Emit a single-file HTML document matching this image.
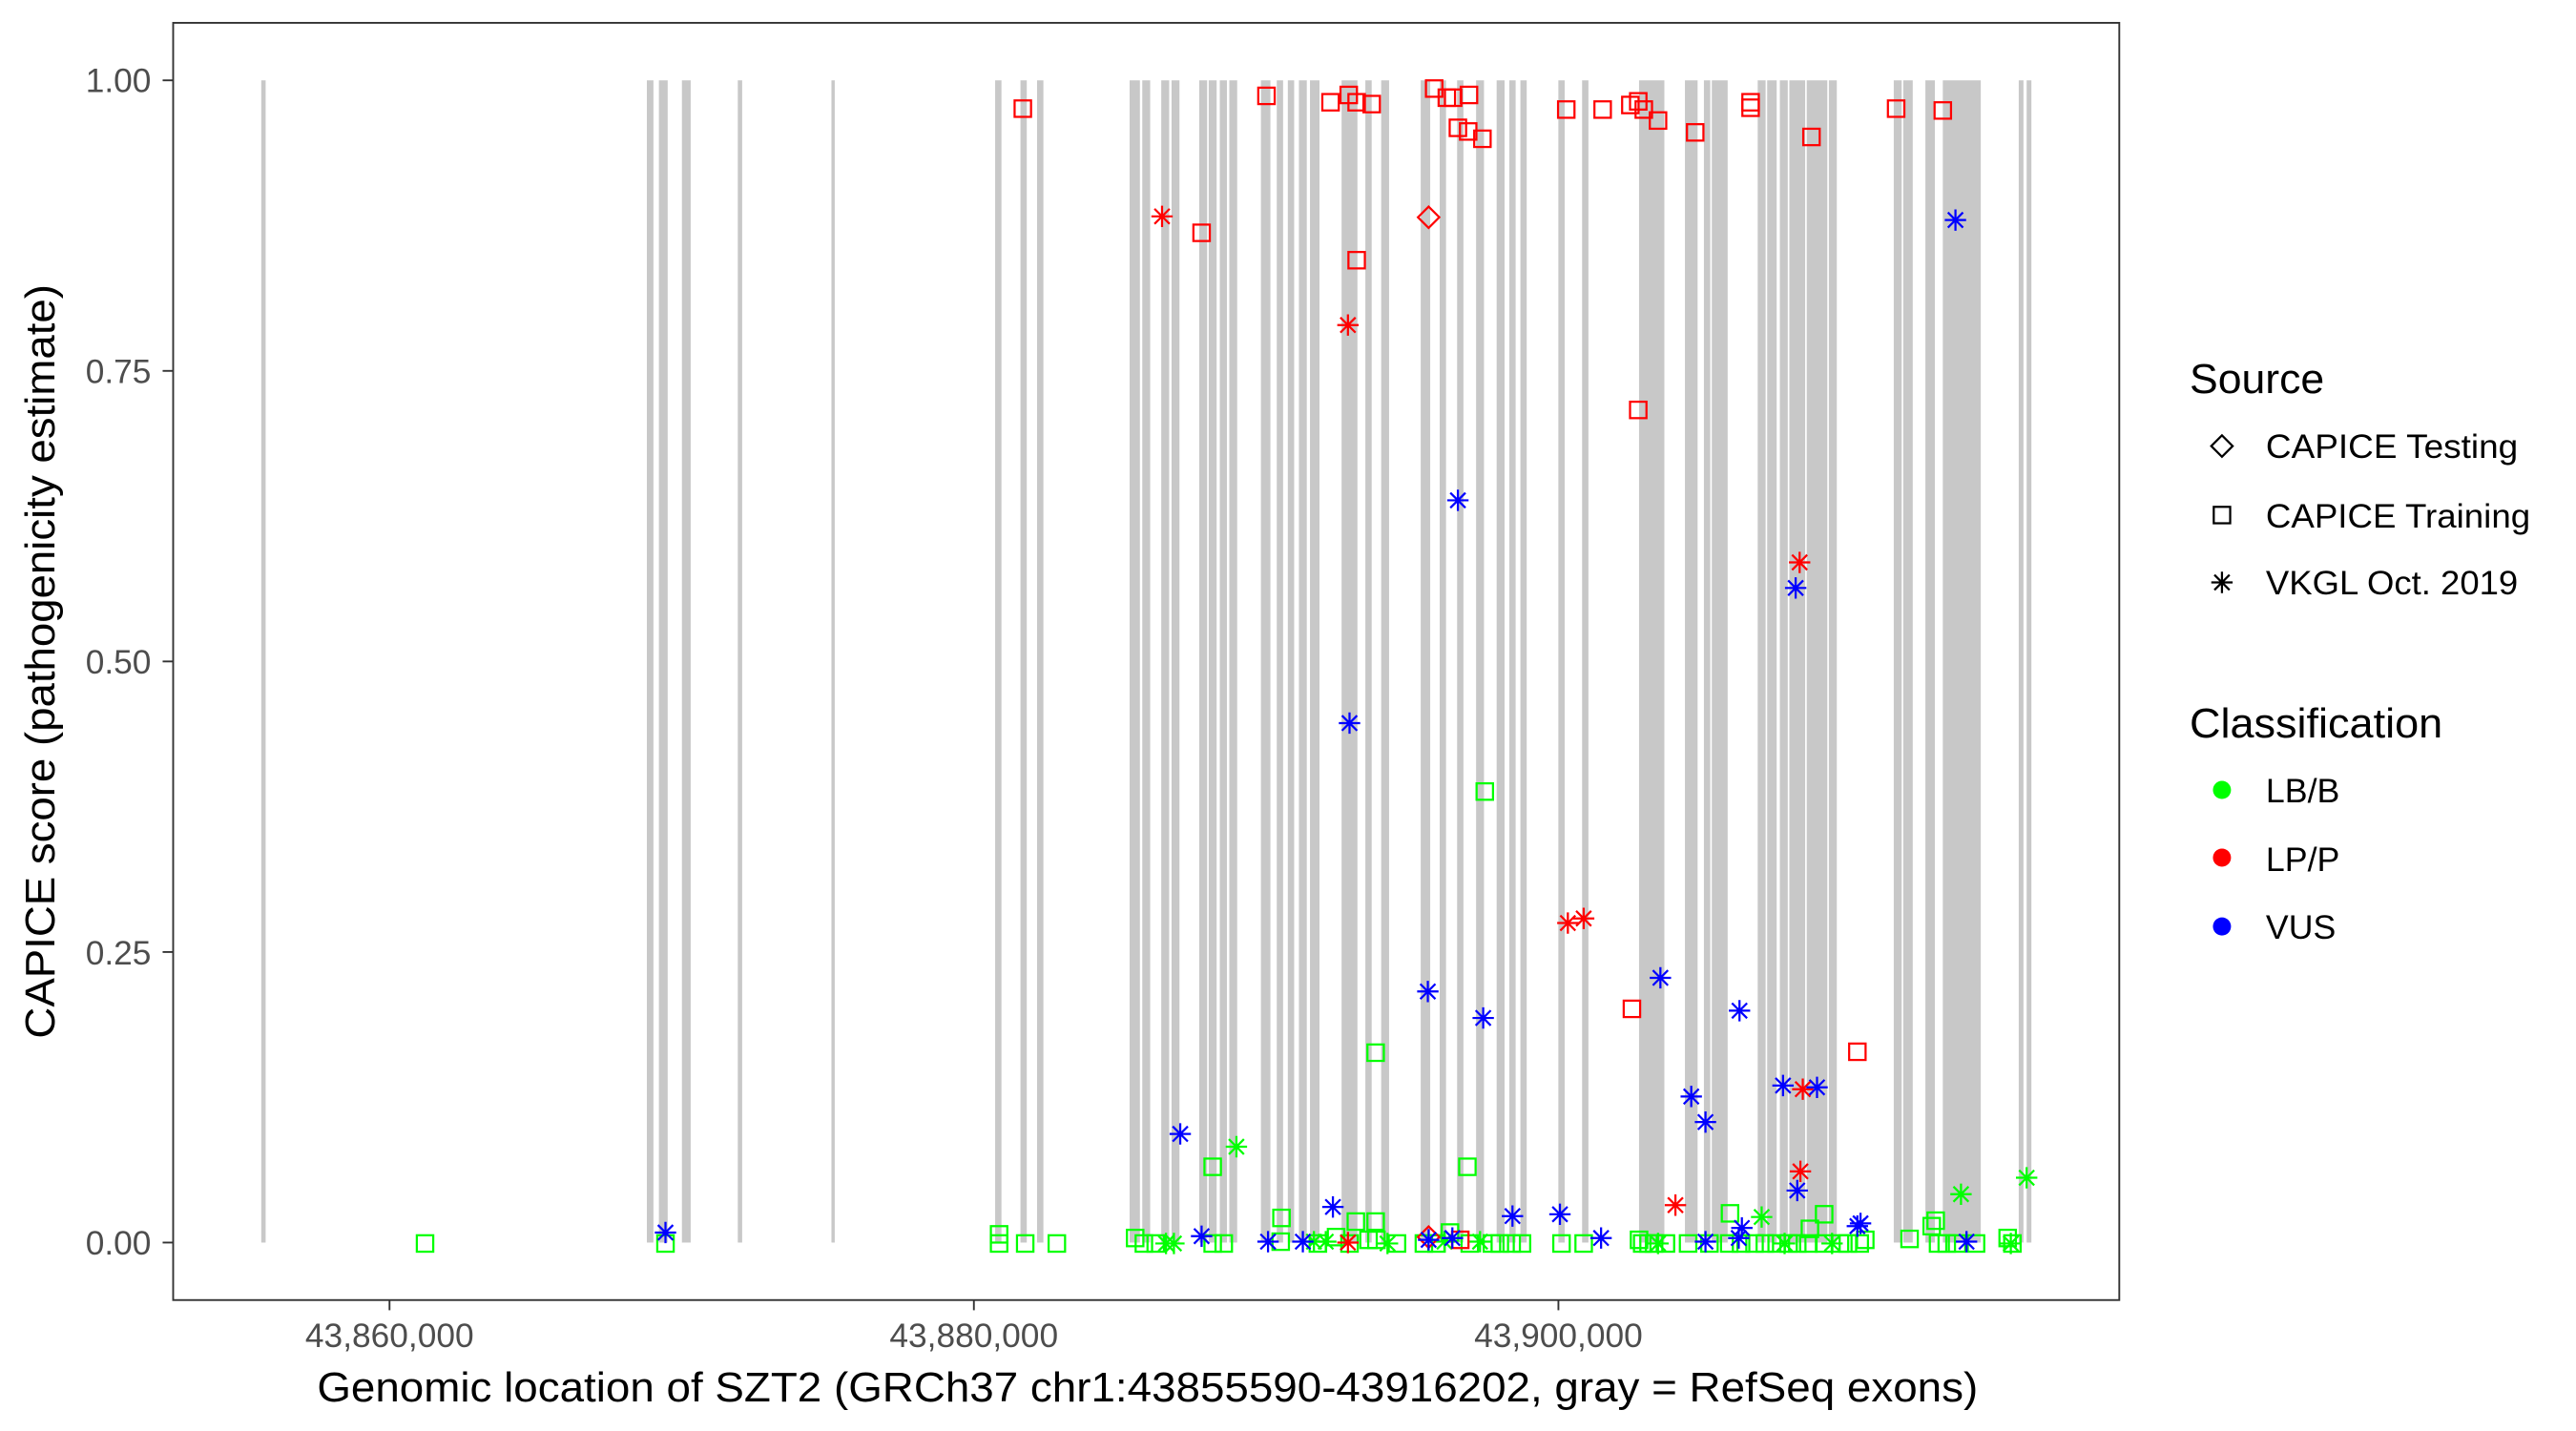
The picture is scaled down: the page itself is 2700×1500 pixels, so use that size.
<!DOCTYPE html>
<html><head><meta charset="utf-8"><style>
html,body{margin:0;padding:0;background:#fff;}
svg{display:block;}
text{font-family:"Liberation Sans",Arial,sans-serif;}
</style></head><body>
<svg id="s" width="2700" height="1500" viewBox="0 0 1568 871" preserveAspectRatio="none" xmlns="http://www.w3.org/2000/svg">
<rect x="0" y="0" width="1568" height="871" fill="#fff"/>
<g id="bars"></g>
<g id="pts"></g>
<rect x="105.4" y="13.9" width="1184.6" height="777.4" fill="none" stroke="#333" stroke-width="1.1"/>
<g stroke="#333" stroke-width="1.1">
<line x1="99" x2="105.4" y1="48.9" y2="48.9"/>
<line x1="99" x2="105.4" y1="225.75" y2="225.75"/>
<line x1="99" x2="105.4" y1="402.6" y2="402.6"/>
<line x1="99" x2="105.4" y1="579.45" y2="579.45"/>
<line x1="99" x2="105.4" y1="756.3" y2="756.3"/>
<line x1="237.1" x2="237.1" y1="791.3" y2="797.5"/>
<line x1="592.8" x2="592.8" y1="791.3" y2="797.5"/>
<line x1="948.6" x2="948.6" y1="791.3" y2="797.5"/>
</g>
<g fill="#4d4d4d" font-size="20.5" text-anchor="end">
<text x="92" y="56">1.00</text>
<text x="92" y="233">0.75</text>
<text x="92" y="410">0.50</text>
<text x="92" y="587">0.25</text>
<text x="92" y="763.5">0.00</text>
</g>
<g fill="#4d4d4d" font-size="20.5" text-anchor="middle">
<text x="237.1" y="820">43,860,000</text>
<text x="592.8" y="820">43,880,000</text>
<text x="948.6" y="820">43,900,000</text>
</g>
<text x="193" y="853" font-size="25.5" textLength="1011" lengthAdjust="spacingAndGlyphs">Genomic location of SZT2 (GRCh37 chr1:43855590-43916202, gray = RefSeq exons)</text>
<text transform="translate(33,402.6) rotate(-90)" text-anchor="middle" font-size="25.5" textLength="459" lengthAdjust="spacingAndGlyphs">CAPICE score (pathogenicity estimate)</text>
<text x="1332.8" y="239.3" font-size="25.5" textLength="82" lengthAdjust="spacingAndGlyphs">Source</text>
<text x="1379.2" y="278.7" font-size="20.5" textLength="153.5" lengthAdjust="spacingAndGlyphs">CAPICE Testing</text>
<text x="1379.2" y="321.1" font-size="20.5" textLength="161" lengthAdjust="spacingAndGlyphs">CAPICE Training</text>
<text x="1379.2" y="361.8" font-size="20.5" textLength="153.5" lengthAdjust="spacingAndGlyphs">VKGL Oct. 2019</text>
<text x="1332.8" y="448.9" font-size="25.5" textLength="154" lengthAdjust="spacingAndGlyphs">Classification</text>
<text x="1379.2" y="488.4" font-size="20.5" textLength="45" lengthAdjust="spacingAndGlyphs">LB/B</text>
<text x="1379.2" y="530.2" font-size="20.5" textLength="45" lengthAdjust="spacingAndGlyphs">LP/P</text>
<text x="1379.2" y="571.4" font-size="20.5" textLength="42.6" lengthAdjust="spacingAndGlyphs">VUS</text>
<circle cx="1352.5" cy="480.8" r="5.5" fill="#00ff00"/>
<circle cx="1352.5" cy="522" r="5.5" fill="#ff0000"/>
<circle cx="1352.5" cy="563.9" r="5.5" fill="#0000ff"/>
<g id="leg"></g>
</svg>
<script>
var NS="http://www.w3.org/2000/svg";
function el(t,a,p){var e=document.createElementNS(NS,t);for(var k in a)e.setAttribute(k,a[k]);p.appendChild(e);return e;}
var bars=document.getElementById('bars'),pts=document.getElementById('pts'),leg=document.getElementById('leg');
function X2(z){return 580.7+z*0.4815;}function Y2(z){return z*0.5557;}
function X1(z){return z*0.3334;}
var b2=[[52,60],[84,92],[105,113],[222,235],[238,248],[262,272],[275,285],[310,320],[322,332],[336,345],[348,358],[388,400],[408,416],[422,430],[436,446],[450,462],[490,510],[520,528],[540,550],[590,602],[614,622],[636,644],[660,670],[686,696],[702,710],[716,724],[764,772],[794,802],[866,898],[924,940],[948,956],[958,978],[1016,1026],[1028,1040],[1044,1054],[1056,1076],[1078,1104],[1106,1116],[1188,1198],[1200,1212],[1228,1240],[1250,1298],[1346,1352],[1356,1362]];
var b1=[[477,485],[1181,1193],[1203,1219],[1245,1261],[1347,1355],[1518,1524]];
b1.forEach(function(b){el('rect',{x:X1(b[0]),y:48.9,width:X1(b[1])-X1(b[0]),height:707.4,fill:'#c8c8c8'},bars);});
b2.forEach(function(b){el('rect',{x:X2(b[0]),y:48.9,width:X2(b[1])-X2(b[0]),height:707.4,fill:'#c8c8c8'},bars);});
function sq(x,y,c,p){el('rect',{x:x-5,y:y-5,width:10,height:10,fill:'none',stroke:c,'stroke-width':1.3},p||pts);}
function dm(x,y,c,p){el('path',{d:'M'+(x-6.5)+' '+y+'L'+x+' '+(y-6.5)+'L'+(x+6.5)+' '+y+'L'+x+' '+(y+6.5)+'Z',fill:'none',stroke:c,'stroke-width':1.3},p||pts);}
function st(x,y,c,p){var r=6.5,d='M'+(x-r)+' '+y+'H'+(x+r)+'M'+x+' '+(y-r)+'V'+(y+r);var a=r*0.707;d+='M'+(x-a)+' '+(y-a)+'L'+(x+a)+' '+(y+a)+'M'+(x-a)+' '+(y+a)+'L'+(x+a)+' '+(y-a);el('path',{d:d,fill:'none',stroke:c,'stroke-width':1.3},p||pts);}
var R='#ff0000',G='#00ff00',B='#0000ff';
var gsq=[[671,867],[533,1153],[327,1278],[649,1278],[981,1329],[1100,1330],[414,1334],[508,1338],[533,1338],[1241,1337],[1236,1343],[1082,1346],[57,1352],[57,1362],[90,1362],[130,1362],[229,1356],[240,1362],[255,1362],[327,1362],[341,1362],[413,1360],[460,1362],[483,1355],[524,1358],[534,1358],[594,1362],[627,1350],[652,1362],[690,1362],[718,1362],[768,1362],[796,1362],[866,1358],[878,1362],[900,1362],[928,1362],[980,1362],[1012,1362],[1040,1362],[1066,1362],[1100,1362],[1130,1362],[1152,1358],[1208,1357],[1244,1362],[1292,1362],[1332,1356],[1338,1362],[500,1362],[560,1362],[610,1362],[680,1362],[705,1362],[870,1362],[885,1362],[955,1362],[995,1362],[1025,1362],[1055,1362],[1080,1362],[1120,1362],[1145,1362],[1255,1362],[1268,1362]];
gsq.forEach(function(p){sq(X2(p[0]),Y2(p[1]),G);});
var gst=[[357,1256],[1273,1308],[1356,1290],[1021,1333],[278,1362],[268,1362],[455,1360],[470,1360],[548,1362],[620,1360],[665,1360],[890,1362],[1050,1362],[1110,1362],[1336,1362]];
gst.forEach(function(p){st(X2(p[0]),Y2(p[1]),G);});
var rsq=[[87,119],[395,105],[476,112],[499,104],[509,112],[528,114],[607,97],[623,107],[631,107],[651,104],[637,140],[650,144],[668,152],[774,120],[820,120],[855,115],[865,111],[872,120],[890,132],[937,145],[1007,112],[1007,118],[1084,150],[1191,119],[1250,121],[313,255],[509,285],[865,449],[857,1105],[1142,1152],[640,1358]];
rsq.forEach(function(p){sq(X2(p[0]),Y2(p[1]),R);});
var rst=[[263,237],[498,356],[776,1011],[796,1006],[1069,616],[1073,1193],[1070,1283],[912,1320],[498,1361]];
rst.forEach(function(p){st(X2(p[0]),Y2(p[1]),R);});
dm(X2(600),Y2(238),R);dm(X2(600),Y2(1355),R);
var bst=[[1266,241],[637,548],[1064,644],[500,792],[599,1086],[669,1115],[893,1071],[993,1107],[932,1201],[950,1229],[1048,1189],[1091,1191],[1066,1304],[286,1242],[479,1322],[706,1332],[766,1330],[313,1354],[397,1360],[441,1360],[600,1358],[630,1356],[818,1356],[950,1360],[996,1345],[992,1356],[1142,1343],[1146,1340],[1280,1360]];
bst.forEach(function(p){st(X2(p[0]),Y2(p[1]),B);});
sq(X1(776),Y2(1362),G);sq(X1(1215),Y2(1362),G);st(X1(1215),Y2(1350),B);
dm(1352.5,271.5,'#000',leg);sq(1352.5,313.5,'#000',leg);st(1352.5,354.5,'#000',leg);
</script>
</body></html>
